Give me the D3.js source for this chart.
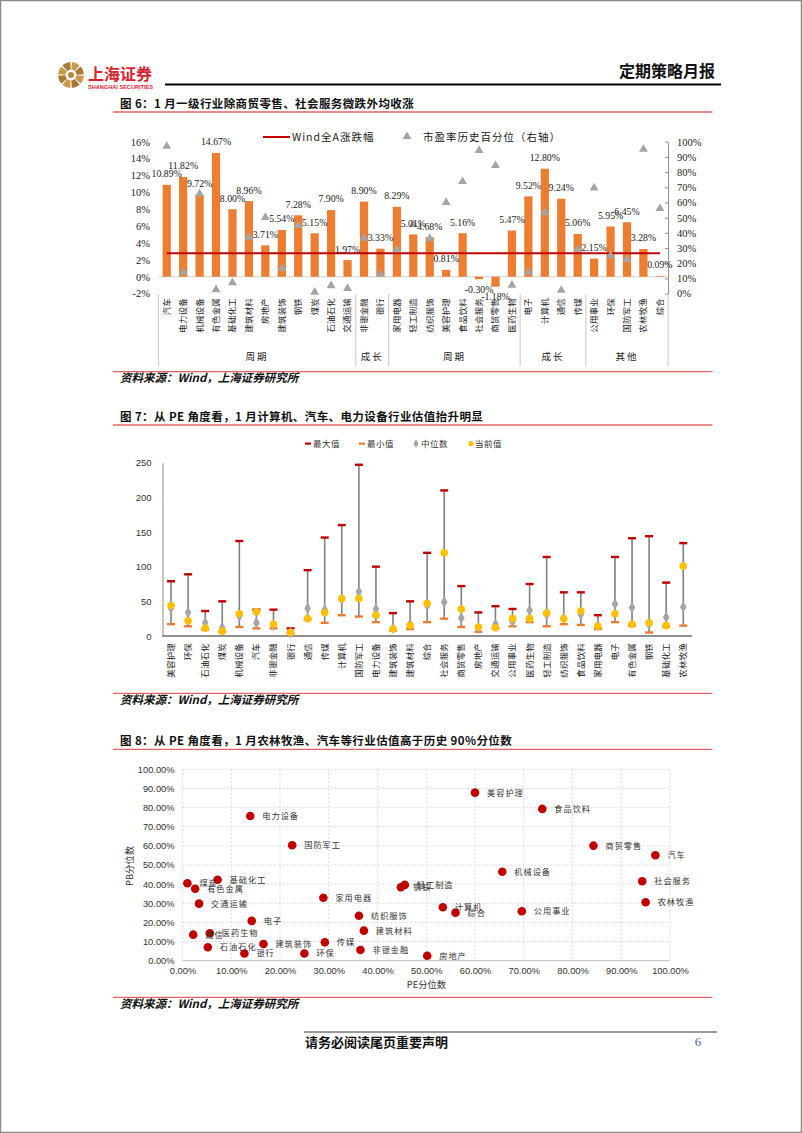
<!DOCTYPE html>
<html><head><meta charset="utf-8">
<script src="https://cdn.jsdelivr.net/npm/d3@7"></script>
<style>body{margin:0;background:#fff}svg{display:block}</style>
</head><body>
<svg id="page" width="802" height="1133"></svg>
<script>
// ---------- DATA ----------
// Figure 6
const cats1 = ["汽车","电力设备","机械设备","有色金属","基础化工","建筑材料","房地产","建筑装饰","钢铁","煤炭","石油石化","交通运输","非银金融","银行","家用电器","轻工制造","纺织服饰","美容护理","食品饮料","社会服务","商贸零售","医药生物","电子","计算机","通信","传媒","公用事业","环保","国防军工","农林牧渔","综合"];
const change1 = [10.89,11.82,9.72,14.67,8.00,8.96,3.71,5.54,7.28,5.15,7.90,1.97,8.90,3.33,8.29,5.01,4.68,0.81,5.16,-0.30,-1.18,5.47,9.52,12.80,9.24,5.06,2.15,5.95,6.45,3.28,0.09];
const groupNames1 = ["周期","成长","周期","成长","其他"];
const groupSizes1 = [12,2,8,4,5];
const windA = 2.77;
const leftTicks1 = [-2,0,2,4,6,8,10,12,14,16];
const rightTicks1 = [0,10,20,30,40,50,60,70,80,90,100];

// Figure 8 (also used for triangles in figure 6)
const scatNames = ["电力设备","国防军工","煤炭","有色金属","基础化工","交通运输","电子","通信","医药生物","石油石化","建筑装饰","银行","家用电器","传媒","环保","纺织服饰","建筑材料","非银金融","房地产","轻工制造","钢铁","机械设备","美容护理","食品饮料","商贸零售","汽车","社会服务","农林牧渔","计算机","综合","公用事业"];
const pePct = [13.9,22.5,1.0,2.6,7.2,3.4,14.2,2.2,5.6,5.2,16.6,12.7,28.9,29.2,25.0,36.2,37.2,36.5,50.2,45.6,44.8,65.6,60.0,73.8,84.3,97.0,94.3,95.0,53.4,56.0,69.6];
const pbPct = [75.6,60.3,40.5,37.6,42.3,29.8,20.8,13.6,14.3,7.0,8.7,3.8,32.9,9.6,3.8,23.5,15.7,5.6,2.6,39.6,38.4,46.5,87.8,79.3,60.1,55.1,41.5,30.5,27.9,25.1,25.8];
const pctTicks = [0,0.1,0.2,0.3,0.4,0.5,0.6,0.7,0.8,0.9,1.0];

// Figure 7
const cats2 = ["美容护理","环保","石油石化","煤炭","机械设备","汽车","非银金融","银行","通信","传媒","计算机","国防军工","电力设备","建筑装饰","建筑材料","综合","社会服务","商贸零售","房地产","交通运输","公用事业","医药生物","轻工制造","纺织服饰","食品饮料","家用电器","电子","有色金属","钢铁","基础化工","农林牧渔"];
const maxPE = [79,89,36,50,137,38,38,11,95,142,160,247,100,33,50,120,210,72,34,43,39,75,114,63,63,30,114,141,144,77,134];
const minPE = [17,14,9,6,13,11,11,4,24,19,30,28,20,8,10,20,25,13,6,11,14,20,14,17,16,10,20,15,5,13,15];
const medPE = [40,34,19,12,29,19,16,5,40,38,53,64,39,11,17,44,49,26,12,17,21,37,31,26,31,15,46,41,17,27,42];
const curPE = [44,22,11,7,32,35,17,5,25,34,54,54,30,10,15,47,120,39,13,12,25,25,33,25,36,14,32,17,19,15,101];
const yTicks2 = [0,50,100,150,200,250];
const legend2 = ["最大值","最小值","中位数","当前值"];

// ---------- STYLE ----------
const cjk = "'Noto Sans CJK SC','Noto Sans CJK JP',sans-serif";
const serif = "'Liberation Serif','Times New Roman',serif";
const arial = "'Liberation Sans',Arial,sans-serif";
const ORANGE = "#ED7D31", DRED = "#C00000", GRAY = "#A5A5A5", YEL = "#FFC000", RULE = "#E36464";

const svg = d3.select("#page");
svg.append("rect").attr("x",0.5).attr("y",0.5).attr("width",801).attr("height",1132)
  .attr("fill","#fff").attr("stroke","#8c8c8c").attr("stroke-width",1.5);

// ---------- HEADER ----------
const logo = svg.append("g").attr("transform","translate(71,75)");
const arcG = d3.arc().innerRadius(5.5).outerRadius(13);
d3.range(8).forEach(i=>{
  logo.append("path").attr("d",arcG({startAngle:i*Math.PI/4+0.06,endAngle:(i+1)*Math.PI/4-0.06}))
    .attr("fill", i%2? "#A77A35":"#C99A4B");
});
logo.append("circle").attr("r",3).attr("fill","#B8873E");
svg.append("text").attr("x",88).attr("y",80).text("上海证券")
  .attr("font-family",cjk).attr("font-weight",700).attr("font-size",16).attr("fill","#D9232E");
svg.append("text").attr("x",88).attr("y",89).text("SHANGHAI SECURITIES")
  .attr("font-family",arial).attr("font-weight",700).attr("font-size",5.6).attr("fill","#D9232E")
  .attr("textLength",65).attr("lengthAdjust","spacingAndGlyphs");
svg.append("line").attr("x1",165).attr("x2",721).attr("y1",84.5).attr("y2",84.5)
  .attr("stroke","#000").attr("stroke-width",2);
svg.append("text").attr("x",715).attr("y",77).attr("text-anchor","end").text("定期策略月报")
  .attr("font-family",cjk).attr("font-weight",700).attr("font-size",16).attr("fill","#111");

function figTitle(txt, yLine){
  svg.append("text").attr("x",120).attr("y",yLine-4).text(txt)
    .attr("font-family",cjk).attr("font-weight",700).attr("font-size",11.5).attr("letter-spacing",0.4).attr("fill","#111");
  svg.append("line").attr("x1",113).attr("x2",712.5).attr("y1",yLine).attr("y2",yLine)
    .attr("stroke",RULE).attr("stroke-width",1.3);
}
function source(yLine){
  svg.append("line").attr("x1",113).attr("x2",712.5).attr("y1",yLine).attr("y2",yLine)
    .attr("stroke",RULE).attr("stroke-width",1.3);
  svg.append("text").attr("x",120).attr("y",yLine+10.5).text("资料来源：Wind，上海证券研究所")
    .attr("font-family",cjk).attr("font-weight",700).attr("font-style","italic").attr("font-size",11.5).attr("fill","#111");
}

// ---------- FIGURE 6 ----------
figTitle("图 6：1 月一级行业除商贸零售、社会服务微跌外均收涨", 112);
const g1 = svg.append("g");
const x1 = d3.scaleBand().domain(cats1).range([158.5,668.1]).paddingInner(0.5).paddingOuter(0.25);
const yL = d3.scaleLinear().domain([-2,16]).range([293.6,141.7]);
const yR = d3.scaleLinear().domain([0,100]).range([293.6,141.7]);
const xc1 = c => x1(c)+x1.bandwidth()/2;

const axL = g1.append("g").attr("transform","translate(150,0)")
  .call(d3.axisLeft(yL).tickValues(leftTicks1).tickFormat(d=>d+"%").tickSize(0).tickPadding(0));
axL.select(".domain").remove();
axL.selectAll("text").attr("font-family",serif).attr("font-size",10.5).attr("fill","#222");

const axR = g1.append("g").attr("transform","translate(668.1,0)")
  .call(d3.axisRight(yR).tickValues(rightTicks1).tickFormat(d=>d+"%").tickSizeInner(-3).tickSizeOuter(0).tickPadding(9));
axR.select(".domain").attr("stroke","#8c8c8c");
axR.selectAll("line").attr("stroke","#8c8c8c");
axR.selectAll("text").attr("font-family",serif).attr("font-size",10.5).attr("fill","#222");

// zero line
g1.append("line").attr("x1",158.5).attr("x2",668.1).attr("y1",yL(0)).attr("y2",yL(0))
  .attr("stroke","#d0d0d0").attr("stroke-width",1);

// bars
g1.selectAll("rect.bar").data(cats1).join("rect").attr("class","bar")
  .attr("x",c=>x1(c)).attr("width",x1.bandwidth())
  .attr("y",(c,i)=>yL(Math.max(0,change1[i])))
  .attr("height",(c,i)=>Math.abs(yL(change1[i])-yL(0)))
  .attr("fill",ORANGE);

// Wind A line
g1.append("line").attr("x1",xc1(cats1[0])).attr("x2",xc1(cats1[cats1.length-1]))
  .attr("y1",yL(windA)).attr("y2",yL(windA)).attr("stroke",DRED).attr("stroke-width",2);

// triangles (PE percentile, right axis)
const tri = d3.symbol().type(d3.symbolTriangle).size(34);
g1.selectAll("path.tri").data(cats1).join("path").attr("class","tri")
  .attr("d",tri)
  .attr("transform",c=>`translate(${xc1(c)},${yR(pePct[scatNames.indexOf(c)])})`)
  .attr("fill",GRAY);

// value labels
g1.selectAll("text.val").data(cats1).join("text").attr("class","val")
  .attr("x",c=>xc1(c))
  .attr("y",(c,i)=> change1[i]>=0 ? yL(change1[i])-11 : yL(change1[i])+10)
  .attr("dy","0.35em").attr("text-anchor","middle")
  .text((c,i)=>change1[i].toFixed(2)+"%")
  .attr("font-family",serif).attr("font-size",9.8).attr("fill","#222");

// category labels
g1.selectAll("text.cat").data(cats1).join("text").attr("class","cat")
  .attr("transform",c=>`translate(${xc1(c)},298) rotate(-90)`)
  .attr("text-anchor","end").attr("dy","0.35em").text(c=>c)
  .attr("font-family",cjk).attr("font-size",8.4).attr("letter-spacing",0.3).attr("fill","#222");

// group separators & labels
let acc = 0;
const bounds = [0];
groupSizes1.forEach(n=>{acc+=n; bounds.push(acc);});
const step1 = x1.step();
const gx = k => 158.5 + k*step1;
bounds.forEach(k=>{
  g1.append("line").attr("x1",gx(k)).attr("x2",gx(k)).attr("y1",294).attr("y2",366)
    .attr("stroke","#c8c8c8").attr("stroke-width",1);
});
groupNames1.forEach((nm,i)=>{
  g1.append("text").attr("x",(gx(bounds[i])+gx(bounds[i+1]))/2).attr("y",357).attr("dy","0.35em")
    .attr("text-anchor","middle").text(nm)
    .attr("font-family",cjk).attr("font-size",9.5).attr("letter-spacing",2).attr("fill","#222");
});

// legend
g1.append("line").attr("x1",263).attr("x2",290).attr("y1",137).attr("y2",137).attr("stroke",DRED).attr("stroke-width",2);
g1.append("text").attr("x",292).attr("y",137).attr("dy","0.35em").text("Wind全A涨跌幅")
  .attr("font-family",cjk).attr("font-size",10.5).attr("letter-spacing",1).attr("fill","#222");
g1.append("path").attr("d",tri).attr("transform","translate(407,136.5)").attr("fill",GRAY);
g1.append("text").attr("x",423).attr("y",137).attr("dy","0.35em").text("市盈率历史百分位（右轴）")
  .attr("font-family",cjk).attr("font-size",10.5).attr("letter-spacing",1).attr("fill","#222");

source(371.7);

// ---------- FIGURE 7 ----------
figTitle("图 7：从 PE 角度看，1 月计算机、汽车、电力设备行业估值抬升明显", 425);
const g2 = svg.append("g");
const x2 = d3.scaleBand().domain(cats2).range([162.5,691.8]);
const y2 = d3.scaleLinear().domain([0,250]).range([636,462.7]);
const xc2 = c => x2(c)+x2.bandwidth()/2;

const ax2 = g2.append("g").attr("transform","translate(162.5,0)")
  .call(d3.axisLeft(y2).tickValues(yTicks2).tickSize(0).tickPadding(11));
ax2.select(".domain").attr("stroke","#a0a0a0").attr("stroke-width",1.2);
ax2.selectAll("text").attr("font-family",arial).attr("font-size",9.5).attr("fill","#333");
g2.append("line").attr("x1",162.5).attr("x2",691.8).attr("y1",636).attr("y2",636).attr("stroke","#222").attr("stroke-width",1.2);

g2.selectAll("line.rng").data(cats2).join("line").attr("class","rng")
  .attr("x1",xc2).attr("x2",xc2)
  .attr("y1",(c,i)=>y2(maxPE[i])).attr("y2",(c,i)=>y2(minPE[i]))
  .attr("stroke","#808080").attr("stroke-width",1.6);
g2.selectAll("rect.mn").data(cats2).join("rect").attr("class","mn")
  .attr("x",c=>xc2(c)-4).attr("width",8).attr("y",(c,i)=>y2(minPE[i])-1.2).attr("height",2.4).attr("fill",ORANGE);
g2.selectAll("rect.mx").data(cats2).join("rect").attr("class","mx")
  .attr("x",c=>xc2(c)-4).attr("width",8).attr("y",(c,i)=>y2(maxPE[i])-1.2).attr("height",2.4).attr("fill",DRED);
const dia = d3.symbol().type(d3.symbolDiamond).size(38);
g2.selectAll("path.med").data(cats2).join("path").attr("class","med")
  .attr("d",dia).attr("transform",(c,i)=>`translate(${xc2(c)},${y2(medPE[i])})`).attr("fill",GRAY);
g2.selectAll("circle.cur").data(cats2).join("circle").attr("class","cur")
  .attr("cx",xc2).attr("cy",(c,i)=>y2(curPE[i])).attr("r",3.8).attr("fill",YEL);

g2.selectAll("text.cat").data(cats2).join("text").attr("class","cat")
  .attr("transform",c=>`translate(${xc2(c)},643) rotate(-90)`)
  .attr("text-anchor","end").attr("dy","0.35em").text(c=>c)
  .attr("font-family",cjk).attr("font-size",8.4).attr("letter-spacing",0.3).attr("fill","#222");

// legend
const lg = g2.append("g").attr("font-family",cjk).attr("font-size",8.5).attr("fill","#333");
const lx = [310,364,418,472];
lg.append("rect").attr("x",lx[0]-5).attr("y",442.5).attr("width",6).attr("height",2.2).attr("fill",DRED);
lg.append("rect").attr("x",lx[1]-5).attr("y",442.5).attr("width",6).attr("height",2.2).attr("fill",ORANGE);
lg.append("path").attr("d",d3.symbol().type(d3.symbolDiamond).size(22)).attr("transform",`translate(${lx[2]-2},443.6)`).attr("fill",GRAY);
lg.append("circle").attr("cx",lx[3]-1).attr("cy",443.6).attr("r",2.6).attr("fill",YEL);
legend2.forEach((t,i)=>{
  lg.append("text").attr("x",lx[i]+3).attr("y",443.6).attr("dy","0.35em").text(t).attr("letter-spacing",0.5);
});

source(693.3);

// ---------- FIGURE 8 ----------
figTitle("图 8：从 PE 角度看，1 月农林牧渔、汽车等行业估值高于历史 90%分位数", 749.3);
const g3 = svg.append("g");
const x3 = d3.scaleLinear().domain([0,1]).range([182.5,670]);
const y3 = d3.scaleLinear().domain([0,1]).range([960.7,769.3]);
const pf = d3.format(".2%");

g3.selectAll("line.vg").data(pctTicks).join("line").attr("class","vg")
  .attr("x1",d=>x3(d)).attr("x2",d=>x3(d)).attr("y1",y3(1)).attr("y2",y3(0))
  .attr("stroke","#d9d9d9").attr("stroke-dasharray","2,2");
g3.selectAll("line.hg").data(pctTicks.slice(1)).join("line").attr("class","hg")
  .attr("x1",x3(0)).attr("x2",x3(1)).attr("y1",d=>y3(d)).attr("y2",d=>y3(d))
  .attr("stroke","#d9d9d9").attr("stroke-dasharray","2,2");
g3.append("line").attr("x1",x3(0)).attr("x2",x3(1)).attr("y1",y3(0)).attr("y2",y3(0)).attr("stroke","#bfbfbf");

const ay3 = g3.append("g").attr("transform",`translate(${x3(0)},0)`)
  .call(d3.axisLeft(y3).tickValues(pctTicks).tickFormat(pf).tickSize(0).tickPadding(8));
ay3.select(".domain").remove();
ay3.selectAll("text").attr("font-family",arial).attr("font-size",9.3).attr("fill","#333");
const ax3 = g3.append("g").attr("transform",`translate(0,${y3(0)})`)
  .call(d3.axisBottom(x3).tickValues(pctTicks).tickFormat(pf).tickSize(0).tickPadding(7));
ax3.select(".domain").remove();
ax3.selectAll("text").attr("font-family",arial).attr("font-size",9.3).attr("fill","#333");

g3.append("text").attr("transform","translate(130,866) rotate(-90)").attr("text-anchor","middle").attr("dy","0.35em")
  .text("PB分位数").attr("font-family",cjk).attr("font-size",9.3).attr("fill","#333");
g3.append("text").attr("x",426.5).attr("y",985).attr("text-anchor","middle").attr("dy","0.35em")
  .text("PE分位数").attr("font-family",cjk).attr("font-size",9.3).attr("fill","#333");

g3.selectAll("circle.pt").data(scatNames).join("circle").attr("class","pt")
  .attr("cx",(n,i)=>x3(pePct[i]/100)).attr("cy",(n,i)=>y3(pbPct[i]/100)).attr("r",4.3).attr("fill",DRED);
g3.selectAll("text.lb").data(scatNames).join("text").attr("class","lb")
  .attr("x",(n,i)=>x3(pePct[i]/100)+12).attr("y",(n,i)=>y3(pbPct[i]/100)).attr("dy","0.35em")
  .text(n=>n).attr("font-family",cjk).attr("font-size",8.2).attr("letter-spacing",1).attr("fill","#333");

source(997.3);

// ---------- FOOTER ----------
svg.append("line").attr("x1",304).attr("x2",717).attr("y1",1032).attr("y2",1032).attr("stroke","#777").attr("stroke-width",1.3);
svg.append("text").attr("x",305).attr("y",1047).text("请务必阅读尾页重要声明")
  .attr("font-family",cjk).attr("font-weight",700).attr("font-size",13).attr("fill","#111");
svg.append("text").attr("x",698).attr("y",1046).attr("text-anchor","middle").text("6")
  .attr("font-family",serif).attr("font-size",13).attr("fill","#4a6aa0");
</script>
</body></html>
